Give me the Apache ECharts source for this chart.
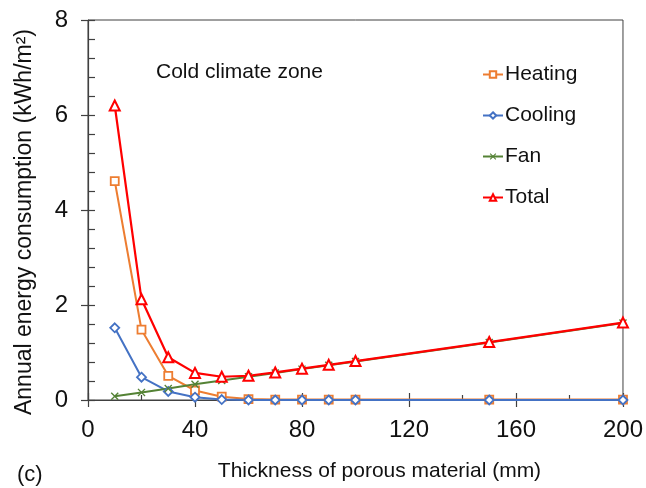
<!DOCTYPE html>
<html>
<head>
<meta charset="utf-8">
<script src="https://cdn.jsdelivr.net/npm/echarts@6/dist/echarts.min.js"></script>
<style>html,body{margin:0;padding:0;background:#fff;}#c{width:646px;height:488px;}</style>
</head>
<body>
<div id="c"></div>
<script>
const thickness = [10, 20, 30, 40, 50, 60, 70, 80, 90, 100, 150, 200];
const heating = [4.61, 1.48, 0.51, 0.2, 0.07, 0.02, 0.01, 0.01, 0.01, 0.01, 0.01, 0.01];
const cooling = [1.52, 0.48, 0.18, 0.06, 0.01, 0, 0, 0, 0, 0, 0, 0];
const fan = [0.08, 0.16, 0.24, 0.33, 0.41, 0.49, 0.57, 0.65, 0.73, 0.81, 1.21, 1.62];
const total = [6.2, 2.12, 0.9, 0.57, 0.49, 0.51, 0.58, 0.66, 0.74, 0.82, 1.22, 1.63];
const xTicks = [0, 40, 80, 120, 160, 200];
const yTicks = [0, 2, 4, 6, 8];

const font = 'Liberation Sans, Arial, sans-serif';
const axisCol = '#404040';
const pairs = arr => thickness.map((x, i) => [x, arr[i]]);
const xMark = 'path://M0,1.2L1.2,0L5,3.8L8.8,0L10,1.2L6.2,5L10,8.8L8.8,10L5,6.2L1.2,10L0,8.8L3.8,5Z';

const chart = echarts.init(document.getElementById('c'), null, {renderer: 'canvas'});
const baseX = {type: 'value', min: xTicks[0], max: xTicks[xTicks.length - 1], interval: 40, splitLine: {show: false}};
const baseY = {type: 'value', min: yTicks[0], max: yTicks[yTicks.length - 1], interval: 2, splitLine: {show: false}};

chart.setOption({
  animation: false,
  backgroundColor: '#fff',
  grid: {left: 88, top: 20, right: 23, bottom: 88, show: true, borderColor: axisCol, borderWidth: 1, backgroundColor: 'transparent'},
  title: [
    {text: 'Cold climate zone', left: 151, top: 57, textStyle: {fontFamily: font, fontSize: 21, fontWeight: 'normal', color: '#111'}},
    {text: '(c)', left: 12, top: 459, textStyle: {fontFamily: font, fontSize: 22, fontWeight: 'normal', color: '#111'}}
  ],
  legend: {
    orient: 'vertical', left: 477, top: 59, itemGap: 20, itemWidth: 20, itemHeight: 8,
    textStyle: {fontFamily: font, fontSize: 21, color: '#111', lineHeight: 21, padding: [0, 0, 0, -3]},
    data: ['Heating', 'Cooling', 'Fan', 'Total']
  },
  xAxis: [
    Object.assign({}, baseX, {
      name: 'Thickness of porous material (mm)', nameLocation: 'middle', nameGap: 61,
      nameTextStyle: {fontFamily: font, fontSize: 21, color: '#111', padding: [0, 0, 0, 48]},
      axisLine: {show: true, lineStyle: {color: axisCol, width: 1.2}},
      axisTick: {show: true, inside: false, length: 7, lineStyle: {color: axisCol, width: 1.2}},
      axisLabel: {fontFamily: font, fontSize: 24, color: '#111', margin: 18}
    }),
    Object.assign({}, baseX, {
      position: 'bottom', gridIndex: 0,
      axisLine: {show: false},
      axisTick: {show: true, inside: true, length: 7, lineStyle: {color: axisCol, width: 1.2}},
      minorTick: {show: true, splitNumber: 2, length: 5, lineStyle: {color: axisCol, width: 1.2}},
      axisLabel: {show: false}
    })
  ],
  yAxis: [
    Object.assign({}, baseY, {
      name: 'Annual energy consumption (kWh/m²)', nameLocation: 'middle', nameGap: 52,
      nameTextStyle: {fontFamily: font, fontSize: 23, color: '#111', padding: [0, 24, 0, 0]},
      axisLine: {show: true, lineStyle: {color: axisCol, width: 1.2}},
      axisTick: {show: true, inside: false, length: 7, lineStyle: {color: axisCol, width: 1.2}},
      axisLabel: {fontFamily: font, fontSize: 24, color: '#111', margin: 20}
    }),
    Object.assign({}, baseY, {
      position: 'left', gridIndex: 0,
      axisLine: {show: false},
      axisTick: {show: true, inside: true, length: 7, lineStyle: {color: axisCol, width: 1.2}},
      minorTick: {show: true, splitNumber: 5, length: 7, lineStyle: {color: axisCol, width: 1.2}},
      axisLabel: {show: false}
    })
  ],
  series: [
    {name: 'Heating', type: 'line', data: pairs(heating), symbol: 'rect', symbolSize: 8,
      lineStyle: {color: '#ED7D31', width: 2}, itemStyle: {color: '#fff', borderColor: '#ED7D31', borderWidth: 1.8}},
    {name: 'Cooling', type: 'line', data: pairs(cooling), symbol: 'diamond', symbolSize: 9,
      lineStyle: {color: '#4472C4', width: 2}, itemStyle: {color: '#fff', borderColor: '#4472C4', borderWidth: 1.8}},
    {name: 'Fan', type: 'line', data: pairs(fan), symbol: xMark, symbolSize: 8,
      lineStyle: {color: '#548235', width: 2}, itemStyle: {color: '#548235', borderColor: '#548235', borderWidth: 0}},
    {name: 'Total', type: 'line', data: pairs(total), symbol: 'triangle', symbolSize: 10,
      lineStyle: {color: '#FF0000', width: 2.2}, itemStyle: {color: '#fff', borderColor: '#FF0000', borderWidth: 2}}
  ]
});
</script>
</body>
</html>
